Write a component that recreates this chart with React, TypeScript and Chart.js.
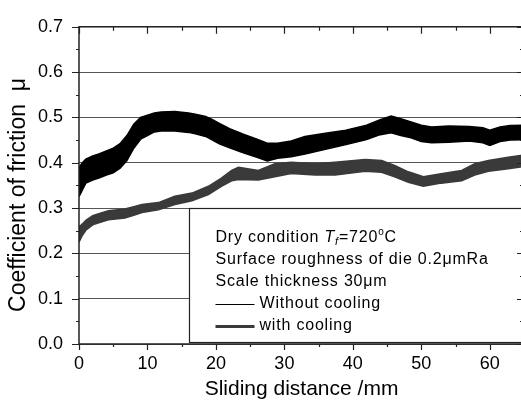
import React, { useEffect, useRef } from 'react';
import { Chart, registerables } from 'chart.js';

Chart.register(...registerables);

// ---- data (sliding distance in mm, friction coefficient) ----
// "Without cooling" — black noisy band: upper and lower envelopes
const noCoolDist = [0, 0.5, 1, 2, 3, 4, 5, 6, 7, 8, 9, 10, 11, 12, 14, 16, 17, 18.5, 19.5, 20.5, 22, 24, 26, 27.5, 29, 31, 33, 36, 39, 42, 44, 45.6, 47, 48.5, 50, 51.5, 54, 57, 59, 60, 61.5, 63, 65];
const noCoolUpper = [0.39, 0.4, 0.408, 0.415, 0.42, 0.426, 0.432, 0.442, 0.46, 0.485, 0.5, 0.505, 0.51, 0.512, 0.513, 0.51, 0.507, 0.502, 0.495, 0.487, 0.475, 0.463, 0.452, 0.443, 0.443, 0.448, 0.458, 0.465, 0.472, 0.483, 0.495, 0.503, 0.497, 0.49, 0.483, 0.479, 0.481, 0.48, 0.477, 0.472, 0.479, 0.482, 0.483];
const noCoolLower = [0.325, 0.34, 0.355, 0.362, 0.367, 0.373, 0.378, 0.388, 0.405, 0.432, 0.452, 0.46, 0.468, 0.47, 0.47, 0.467, 0.464, 0.458, 0.45, 0.442, 0.433, 0.422, 0.412, 0.404, 0.41, 0.413, 0.419, 0.43, 0.44, 0.451, 0.462, 0.466, 0.46, 0.455, 0.447, 0.444, 0.445, 0.448, 0.444, 0.438, 0.447, 0.45, 0.451];

// "with cooling" — dark grey band: upper and lower envelopes
const coolDist = [0, 0.5, 1, 2, 3, 4.3, 6.7, 8, 9.2, 11.6, 14, 16.5, 18.9, 20.8, 22.3, 23.3, 26.2, 28.6, 31, 34.5, 37.4, 41.8, 44.2, 46.1, 48.1, 50.3, 52.9, 55.9, 57.8, 59.8, 62.7, 65];
const coolUpper = [0.258, 0.265, 0.273, 0.283, 0.288, 0.294, 0.298, 0.303, 0.308, 0.312, 0.326, 0.333, 0.348, 0.366, 0.383, 0.39, 0.383, 0.398, 0.401, 0.398, 0.401, 0.407, 0.405, 0.394, 0.38, 0.369, 0.376, 0.383, 0.398, 0.405, 0.412, 0.417];
const coolLower = [0.225, 0.24, 0.251, 0.263, 0.268, 0.274, 0.278, 0.284, 0.29, 0.296, 0.308, 0.316, 0.33, 0.348, 0.36, 0.363, 0.362, 0.369, 0.376, 0.373, 0.373, 0.381, 0.379, 0.369, 0.357, 0.348, 0.355, 0.36, 0.373, 0.381, 0.387, 0.392];

const xTickValues = [0, 10, 20, 30, 40, 50, 60];
const yTickValues = [0, 0.1, 0.2, 0.3, 0.4, 0.5, 0.6, 0.7];
const seriesNames = ['Without cooling', 'with cooling'];
const noteLines = ['Surface roughness of die 0.2\u03bcmRa', 'Scale thickness 30\u03bcm'];

const FONT = '"Liberation Sans", Arial, sans-serif';
const BLACK = '#000000';
const GREY = '#3a3a3a';

const pts = (xs: number[], ys: number[]) => xs.map((x, i) => ({ x, y: ys[i] }));

const legendPlugin = {
  id: 'noteBox',
  afterDatasetsDraw(chart: any) {
    const { ctx, chartArea: a, scales } = chart;
    const x = scales.x;
    const y = scales.y;
    const left = Math.round(x.getPixelForValue(16)) + 0.5;
    const top = Math.round(y.getPixelForValue(0.3)) + 0.5;
    const bottom = Math.round(y.getPixelForValue(0.005)) + 0.5;
    const right = a.right + 4;
    ctx.save();
    ctx.fillStyle = '#ffffff';
    ctx.fillRect(left, top, right - left, bottom - top);
    ctx.strokeStyle = '#222';
    ctx.lineWidth = 1.2;
    ctx.strokeRect(left, top, right - left, bottom - top);

    ctx.fillStyle = '#000';
    ctx.textBaseline = 'middle';
    ctx.textAlign = 'left';
    (ctx as any).letterSpacing = '0.8px';
    const tx = left + 26;
    const y0 = top + 29.5;
    const dy = 21.9;
    // line 1: Dry condition T_f=720°C
    let cx = tx;
    const seg = (txt: string, font: string, dyOff: number) => {
      ctx.font = font;
      ctx.fillText(txt, cx, y0 + dyOff);
      cx += ctx.measureText(txt).width;
    };
    seg('Dry condition ', `16px ${FONT}`, 0);
    seg('T', `italic 16px ${FONT}`, 0);
    seg('f', `italic 11px ${FONT}`, 4);
    seg('=720', `16px ${FONT}`, 0);
    seg('o', `10px ${FONT}`, -6);
    seg('C', `16px ${FONT}`, 0);

    ctx.font = `16px ${FONT}`;
    noteLines.forEach((t, i) => ctx.fillText(t, tx, y0 + dy * (i + 1)));

    // series keys
    const keyStyles = [
      { color: BLACK, width: 1 },
      { color: GREY, width: 3 },
    ];
    seriesNames.forEach((name, i) => {
      const ly = y0 + dy * (i + 3);
      ctx.strokeStyle = keyStyles[i].color;
      ctx.lineWidth = keyStyles[i].width;
      ctx.beginPath();
      ctx.moveTo(tx, Math.round(ly) + 0.5);
      ctx.lineTo(tx + 39, Math.round(ly) + 0.5);
      ctx.stroke();
      ctx.fillStyle = '#000';
      ctx.fillText(name, tx + 44, ly);
    });
    ctx.restore();
  },
};

const framePlugin = {
  id: 'frameTicks',
  afterDraw(chart: any) {
    const { ctx, chartArea: a, scales } = chart;
    const x = scales.x;
    const y = scales.y;
    ctx.save();
    ctx.strokeStyle = '#222';
    ctx.lineWidth = 1.5;
    ctx.strokeRect(a.left, a.top, a.right - a.left, a.bottom - a.top);
    ctx.lineWidth = 1.2;
    ctx.beginPath();
    for (let v = x.min; v <= x.max + 1e-9; v += 5) {
      const px = Math.round(x.getPixelForValue(v)) + 0.5;
      const major = Math.abs(v % 10) < 1e-6;
      ctx.moveTo(px, a.bottom);
      ctx.lineTo(px, a.bottom + (major ? 6 : 3));
      ctx.moveTo(px, a.top);
      ctx.lineTo(px, a.top + (major ? 7 : 4));
    }
    for (let i = 0; i <= 14; i++) {
      const v = i * 0.05;
      const py = Math.round(y.getPixelForValue(v)) + 0.5;
      const major = i % 2 === 0;
      ctx.moveTo(a.left - (major ? 7 : 3), py);
      ctx.lineTo(a.left, py);
      ctx.moveTo(a.right, py);
      ctx.lineTo(a.right - (major ? 7 : 4), py);
    }
    ctx.stroke();
    ctx.restore();
  },
};

export default function App() {
  const ref = useRef<HTMLCanvasElement | null>(null);

  useEffect(() => {
    if (!ref.current) return;
    const chart = new Chart(ref.current, {
      type: 'line',
      data: {
        datasets: [
          { label: 'Without cooling (upper)', data: pts(noCoolDist, noCoolUpper), borderColor: BLACK, backgroundColor: BLACK, borderWidth: 1.5, pointRadius: 0, fill: false },
          { label: 'Without cooling (lower)', data: pts(noCoolDist, noCoolLower), borderColor: BLACK, backgroundColor: BLACK, borderWidth: 1.5, pointRadius: 0, fill: '-1' },
          { label: 'with cooling (upper)', data: pts(coolDist, coolUpper), borderColor: GREY, backgroundColor: GREY, borderWidth: 1.5, pointRadius: 0, fill: false },
          { label: 'with cooling (lower)', data: pts(coolDist, coolLower), borderColor: GREY, backgroundColor: GREY, borderWidth: 1.5, pointRadius: 0, fill: '-1' },
        ],
      },
      options: {
        responsive: false,
        animation: false,
        devicePixelRatio: 1,
        layout: { padding: { top: 17, right: 1, bottom: 0, left: 0 }, autoPadding: false },
        plugins: { legend: { display: false }, tooltip: { enabled: false } },
        elements: { line: { tension: 0 } },
        scales: {
          x: {
            type: 'linear',
            min: 0,
            max: 65,
            afterBuildTicks: (s: any) => { s.ticks = xTickValues.map((v) => ({ value: v })); },
            afterFit: (s: any) => { s.height = 56; },
            grid: { display: false, drawTicks: false },
            border: { display: false },
            ticks: { color: '#000', padding: 9, font: { family: FONT, size: 18 }, maxRotation: 0 },
            title: { display: true, text: 'Sliding distance /mm', color: '#000', font: { family: FONT, size: 21, lineHeight: 1 }, padding: 0 },
          },
          y: {
            type: 'linear',
            min: 0,
            max: 0.7,
            afterBuildTicks: (s: any) => { s.ticks = yTickValues.map((v) => ({ value: v })); },
            afterFit: (s: any) => { s.width = 79; },
            grid: { color: '#555', lineWidth: 1, drawTicks: false },
            border: { display: false },
            ticks: { color: '#000', padding: 16, font: { family: FONT, size: 18 }, callback: (v: any) => Number(v).toFixed(1) },
            title: { display: true, text: 'Coefficient of friction  \u03bc   ', color: '#000', font: { family: FONT, size: 23, lineHeight: 1 }, padding: { top: 7, bottom: 0 } },
          },
        },
      },
      plugins: [legendPlugin, framePlugin],
    } as any);
    return () => chart.destroy();
  }, []);

  return (
    <div style={{ position: 'fixed', left: 0, top: 0, width: 521, height: 400, overflow: 'hidden', background: '#fff' }}>
      <canvas ref={ref} width={525} height={400} style={{ width: 525, height: 400, display: 'block' }} />
    </div>
  );
}
